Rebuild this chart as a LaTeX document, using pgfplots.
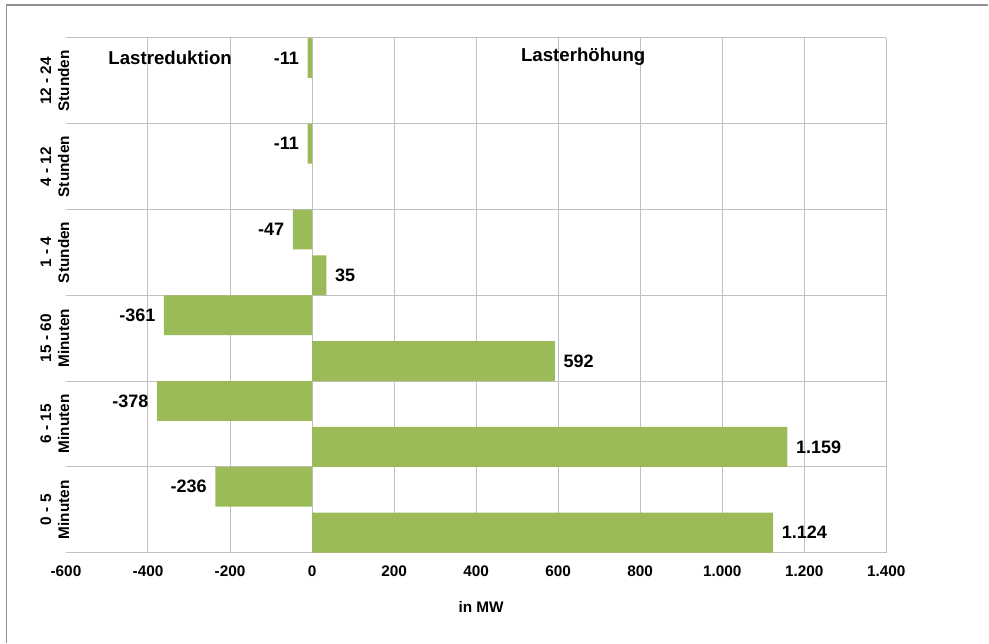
\documentclass[border=0pt]{standalone}
\usepackage{pgfplots}
\pgfplotsset{compat=1.18}
\usepackage{fontspec}
\setmainfont{Liberation Sans}
\definecolor{barg}{HTML}{9BBB59}
\definecolor{gridc}{HTML}{C0C0C0}
\definecolor{framec}{HTML}{909090}
\begin{document}
\begin{tikzpicture}
\path (0pt,0pt) rectangle (741.75pt,482.25pt);
\draw[framec, line width=1.1pt] (4.9pt,0pt) -- (4.9pt,478.5pt) -- (741.75pt,478.5pt);
\begin{axis}[
  at={(49.5pt,67.5pt)}, anchor=south west,
  scale only axis, width=615.75pt, height=386.25pt,
  xmin=-600, xmax=1400, ymin=-0.5, ymax=5.5,
  clip=false,
  axis line style={draw=none},
  major tick length=0pt, minor tick length=0pt,
  xtick={-400,-200,...,1400},
  extra x ticks={-600},
  extra x tick style={grid=none},
  xmajorgrids,
  ytick={0,1,2,3,4,5},
  yticklabels={{0 - 5\\Minuten},{6 - 15\\Minuten},{15 - 60\\Minuten},{1 - 4\\Stunden},{4 - 12\\Stunden},{12 - 24\\Stunden}},
  minor ytick={-0.5,0.5,...,5.5},
  yminorgrids,
  grid style={gridc, line width=0.75pt},
  minor grid style={gridc, line width=0.75pt},
  /pgf/number format/.cd, use comma, 1000 sep={.}, assume math mode=true,
  /pgfplots/.cd,
  xticklabel style={font=\fontsize{11.5}{13}\selectfont\bfseries, yshift=-6.5pt},
  yticklabel style={font=\fontsize{11.5}{13.5}\selectfont\bfseries, rotate=90, anchor=south, align=center, yshift=-6pt},
  xlabel={in MW},
  xlabel style={font=\fontsize{11.5}{13}\selectfont\bfseries, at={(axis description cs:0.506,0)}, anchor=center, yshift=-40.5pt},
  xbar, bar width=0.465,
  nodes near coords,
  every node near coord/.append style={font=\fontsize{13.5}{15}\selectfont\bfseries, text=black},
]
\addplot[fill=barg, draw=none, bar shift=0.267,
  every node near coord/.append style={anchor=east, xshift=-3pt}]
  coordinates {(-236,0) (-378,1) (-361,2) (-47,3) (-11,4) (-11,5)};
\addplot[fill=barg, draw=none, bar shift=-0.267,
  every node near coord/.append style={anchor=west, xshift=3pt}]
  coordinates {(1124,0) (1159,1) (592,2) (35,3)};
\node[font=\fontsize{14}{16}\selectfont\bfseries] at (axis cs:-346,5.27) {Lastreduktion};
\node[font=\fontsize{14}{16}\selectfont\bfseries] at (axis cs:661,5.28) {Lasterhöhung};
\end{axis}
\end{tikzpicture}
\end{document}
